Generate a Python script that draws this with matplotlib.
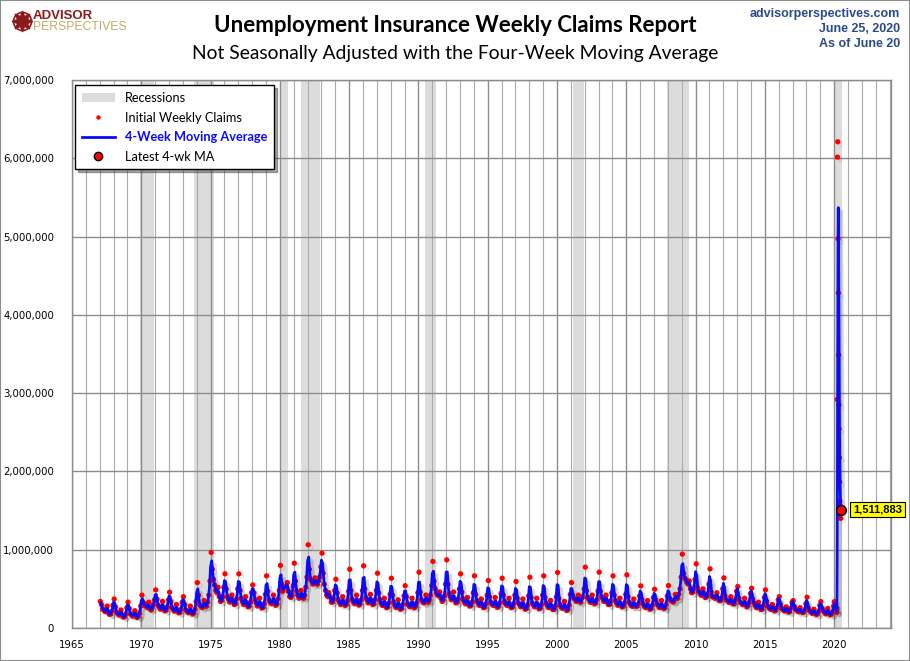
import numpy as np
import pandas as pd
import matplotlib
matplotlib.use('Agg')
import matplotlib.pyplot as plt
from matplotlib.lines import Line2D
from matplotlib.patches import Patch, Rectangle
import matplotlib.patheffects as pe
from matplotlib.ticker import FuncFormatter, MultipleLocator

# Initial weekly claims (NSA), thousands, one row per year, Jan..Dec
claims_1967_1969 = [
    [340, 300, 240, 230, 210, 215, 280, 200, 175, 180, 215, 290],
    [370, 270, 200, 185, 165, 170, 230, 165, 140, 145, 175, 260],
    [330, 250, 180, 170, 150, 160, 220, 160, 135, 150, 190, 280],
]
claims_1970s = [
    [420, 330, 290, 300, 270, 260, 330, 250, 230, 260, 300, 360],
    [487, 370, 290, 270, 240, 250, 340, 250, 220, 230, 270, 360],
    [457, 340, 260, 240, 215, 225, 300, 220, 195, 200, 240, 330],
    [400, 300, 230, 215, 195, 205, 280, 200, 180, 195, 240, 340],
    [580, 420, 300, 280, 260, 280, 350, 280, 280, 330, 420, 600],
    [965, 750, 620, 550, 480, 450, 520, 400, 340, 350, 400, 520],
    [692, 500, 400, 370, 330, 340, 420, 340, 300, 310, 370, 500],
    [692, 480, 380, 340, 300, 320, 400, 300, 270, 280, 330, 450],
    [550, 450, 360, 320, 280, 290, 380, 290, 255, 265, 310, 430],
    [666, 470, 360, 330, 310, 330, 420, 340, 290, 310, 370, 480],
]
claims_1980s = [
    [800, 560, 470, 520, 520, 530, 580, 470, 400, 390, 420, 540],
    [828, 600, 470, 420, 380, 400, 480, 400, 380, 420, 520, 650],
    [1063, 750, 620, 600, 560, 570, 640, 570, 560, 600, 650, 780],
    [956, 700, 560, 480, 420, 400, 450, 400, 330, 330, 370, 480],
    [623, 450, 360, 330, 300, 310, 400, 320, 290, 300, 350, 470],
    [751, 480, 370, 340, 310, 320, 420, 330, 295, 310, 360, 480],
    [794, 500, 390, 360, 320, 330, 430, 340, 300, 310, 360, 480],
    [700, 450, 360, 320, 290, 290, 380, 300, 260, 270, 320, 430],
    [636, 420, 330, 290, 260, 270, 360, 280, 240, 250, 300, 410],
    [540, 400, 310, 290, 270, 280, 380, 290, 260, 280, 320, 450],
]
claims_1990s = [
    [713, 460, 360, 340, 320, 330, 420, 350, 330, 360, 420, 540],
    [850, 600, 500, 450, 420, 410, 460, 380, 340, 360, 410, 560],
    [871, 560, 440, 400, 360, 370, 460, 360, 320, 330, 370, 500],
    [692, 460, 370, 340, 310, 310, 390, 310, 280, 290, 330, 450],
    [666, 430, 350, 320, 290, 290, 370, 290, 260, 270, 310, 420],
    [606, 400, 330, 310, 290, 290, 390, 300, 265, 280, 320, 440],
    [636, 420, 340, 310, 290, 290, 380, 290, 260, 270, 310, 420],
    [594, 380, 320, 300, 270, 280, 370, 280, 240, 250, 290, 410],
    [649, 390, 320, 300, 270, 280, 380, 280, 245, 255, 300, 420],
    [666, 390, 320, 290, 260, 270, 350, 270, 235, 240, 280, 400],
]
claims_2000s = [
    [709, 380, 300, 270, 250, 260, 340, 260, 225, 240, 290, 430],
    [580, 420, 380, 370, 340, 350, 420, 340, 330, 380, 400, 500],
    [777, 480, 390, 370, 330, 330, 420, 340, 310, 320, 360, 470],
    [713, 470, 400, 380, 340, 340, 420, 340, 300, 300, 340, 450],
    [666, 420, 350, 320, 290, 300, 380, 290, 270, 280, 320, 430],
    [679, 400, 330, 300, 280, 280, 370, 280, 280, 280, 310, 410],
    [538, 360, 310, 280, 260, 270, 350, 270, 240, 250, 290, 390],
    [495, 360, 310, 290, 260, 270, 350, 270, 250, 260, 300, 410],
    [542, 380, 350, 350, 330, 350, 430, 380, 380, 430, 500, 650],
    [944, 700, 640, 620, 580, 560, 600, 500, 450, 460, 500, 620],
]
claims_2010s = [
    [820, 520, 470, 450, 420, 420, 500, 440, 390, 400, 430, 560],
    [756, 460, 400, 400, 380, 390, 450, 380, 350, 350, 380, 500],
    [640, 410, 360, 350, 330, 330, 400, 330, 310, 310, 360, 470],
    [530, 380, 330, 320, 300, 300, 380, 300, 270, 290, 330, 440],
    [508, 370, 320, 290, 260, 260, 330, 270, 240, 240, 280, 390],
    [487, 340, 280, 260, 240, 240, 300, 250, 220, 230, 260, 360],
    [400, 300, 250, 240, 220, 220, 270, 230, 205, 210, 250, 330],
    [350, 270, 240, 230, 210, 210, 260, 210, 200, 200, 230, 310],
    [393, 260, 220, 210, 190, 190, 240, 190, 175, 180, 210, 290],
    [337, 250, 220, 200, 180, 190, 250, 190, 170, 175, 205, 280],
]

# 2020 weekly values (thousands)
weeks_2020 = ['2020-01-04', '2020-01-11', '2020-01-18', '2020-01-25', '2020-02-01',
              '2020-02-08', '2020-02-15', '2020-02-22', '2020-02-29', '2020-03-07',
              '2020-03-14', '2020-03-21', '2020-03-28', '2020-04-04', '2020-04-11',
              '2020-04-18', '2020-04-25', '2020-05-02', '2020-05-09', '2020-05-16',
              '2020-05-23', '2020-05-30', '2020-06-06', '2020-06-13', '2020-06-20']
claims_2020_k = [330, 337, 280, 250, 240, 230, 220, 210, 205, 200,
                 251, 2920, 6015, 6211, 4971, 4281, 3489, 2849, 2545, 2174,
                 1866, 1620, 1570, 1453, 1401]
latest_ma = 1511883

recession_start = ['1969-12', '1973-11', '1980-01', '1981-07', '1990-07', '2001-03', '2007-12', '2020-02']
recession_end = ['1970-11', '1975-03', '1980-07', '1982-11', '1991-03', '2001-11', '2009-06', '2020-07']

# --- build series ---
rows = claims_1967_1969 + claims_1970s + claims_1980s + claims_1990s + claims_2000s + claims_2010s
monthly = np.array(rows, dtype=float).ravel() * 1000
years = np.repeat(np.arange(1967, 1967 + len(rows)), 12)
months = np.tile(np.arange(1, 13), len(rows))
x_month = years + (months - 0.5) / 12.0

wk = pd.to_datetime(weeks_2020)
x_week = wk.year + (wk.dayofyear - 0.5) / 366.0
weekly = np.array(claims_2020_k, dtype=float) * 1000

# moving average: pairwise for the monthly part, 4 weeks for 2020
ma_month = pd.Series(monthly).rolling(2).mean().values[1:]
x_ma_month = x_month[1:] - 1 / 24.0
ma_week = pd.Series(np.concatenate([monthly[-1:], weekly])).rolling(4, min_periods=1).mean().values[1:]

x_dots = np.concatenate([x_month, x_week])
y_dots = np.concatenate([monthly, weekly])
x_ma = np.concatenate([x_ma_month, x_week])
y_ma = np.concatenate([ma_month, ma_week])


def ym(s, end=False):
    y, m = s.split('-')
    return int(y) + (int(m) - (0 if end else 1)) / 12.0


# --- figure ---
fig = plt.figure(figsize=(9.1, 6.61), dpi=100)
ax = fig.add_axes([72 / 910, 1 - 628 / 661, 819 / 910, 548 / 661])

for s, e in zip(recession_start, recession_end):
    ax.axvspan(ym(s), ym(e, end=True), color='#DCDCDC', lw=0, zorder=0)

dot_shadow = [pe.SimpleLineShadow(offset=(2, -2), shadow_color='k', alpha=0.08), pe.Normal()]
line_shadow = [pe.SimpleLineShadow(offset=(2.5, -2.5), shadow_color='k', alpha=0.15), pe.Normal()]
ax.plot(x_dots, y_dots, ls='none', marker='o', ms=2.8, color='#FF0000', mec='#FF0000',
        zorder=3, path_effects=dot_shadow)
ax.plot(x_ma, y_ma, color='#0A0AFF', lw=2.0, zorder=4, path_effects=line_shadow)
ax.plot([x_week[-1]], [latest_ma], ls='none', marker='o', ms=7, color='#FF0000', mec='k',
        mew=1, zorder=6)
ax.annotate(f'{latest_ma:,}', xy=(x_week[-1], latest_ma), xytext=(9, 0), textcoords='offset points',
            ha='left', va='center', fontsize=8, fontweight='bold', family='Liberation Sans',
            bbox=dict(boxstyle='square,pad=0.25', fc='#FFFF00', ec='k', lw=0.8), zorder=7,
            annotation_clip=False)

ax.set_xlim(1965, 2024.1)
ax.set_ylim(0, 7_000_000)
ax.xaxis.set_major_locator(MultipleLocator(5))
ax.xaxis.set_minor_locator(MultipleLocator(1))
ax.yaxis.set_major_locator(MultipleLocator(1_000_000))
ax.yaxis.set_major_formatter(FuncFormatter(lambda v, p: f'{v:,.0f}'))
ax.xaxis.set_major_formatter(FuncFormatter(lambda v, p: f'{v:.0f}'))
ax.grid(which='minor', axis='x', color='#ABABAB', lw=0.8, zorder=1)
ax.grid(which='major', axis='x', color='#8C8C8C', lw=1.0, zorder=1)
ax.grid(which='major', axis='y', color='#8C8C8C', lw=1.0, zorder=1)
ax.set_axisbelow(True)
ax.tick_params(which='both', length=0, labelsize=7.3)
ax.tick_params(axis='y', pad=13)
ax.tick_params(axis='x', pad=9)
for sp in ax.spines.values():
    sp.set_color('#8C8C8C')
    sp.set_linewidth(1.0)

handles = [
    Patch(facecolor='#DCDCDC', edgecolor='none'),
    Line2D([], [], ls='none', marker='o', ms=2.2, color='#FF0000'),
    Line2D([], [], color='#0A0AFF', lw=2.0),
    Line2D([], [], ls='none', marker='o', ms=6, color='#FF0000', mec='k', mew=1),
]
labels = ['Recessions', 'Initial Weekly Claims', '4-Week Moving Average', 'Latest 4-wk MA']
leg = ax.legend(handles, labels, loc='upper left', bbox_to_anchor=(0.004, 0.99), borderaxespad=0,
                fancybox=False, shadow=True, framealpha=1, edgecolor='k',
                prop={'family': 'Lato', 'size': 9.2}, handlelength=2.6, labelspacing=0.6,
                borderpad=0.5)
leg.get_frame().set_linewidth(1.0)
leg.set_zorder(10)
leg.get_texts()[2].set_color('#0A0AFF')
leg.get_texts()[2].set_fontweight('bold')

# titles
fig.text(0.5, 1 - 25 / 661, 'Unemployment Insurance Weekly Claims Report', ha='center', va='center',
         fontsize=16, fontweight='bold', family='Lato')
fig.text(0.5, 1 - 53 / 661, 'Not Seasonally Adjusted with the Four-Week Moving Average', ha='center',
         va='center', fontsize=13.9, family='Lato')
for i, t in enumerate(['advisorperspectives.com', 'June 25, 2020', 'As of June 20']):
    fig.text(900 / 910, 1 - (14 + 15 * i) / 661, t, ha='right', va='center', fontsize=9,
             fontweight='bold', family='Liberation Sans', color='#2B4A8B')

# logo
fig.add_artist(Line2D([22 / 910], [1 - 21 / 661], marker='o', ms=13, mfc='none', mec='#8B1A1A',
                      mew=1.2, transform=fig.transFigure))
fig.add_artist(Line2D([22 / 910], [1 - 21 / 661], marker=(8, 1, 0), ms=15, color='#8B1A1A',
                      transform=fig.transFigure))
fig.text(33 / 910, 1 - 16 / 661, 'ADVISOR', ha='left', va='center', fontsize=9.5, fontweight='bold',
         family='Liberation Sans', color='#8B1A1A')
fig.text(33 / 910, 1 - 27.5 / 661, 'PERSPECTIVES', ha='left', va='center', fontsize=8.8,
         family='Liberation Sans', color='#C9A962')

fig.add_artist(Rectangle((0, 0), 1, 1, transform=fig.transFigure, fill=False, ec='#8C8C8C', lw=1.5))

fig.savefig('out.png', dpi=100)
